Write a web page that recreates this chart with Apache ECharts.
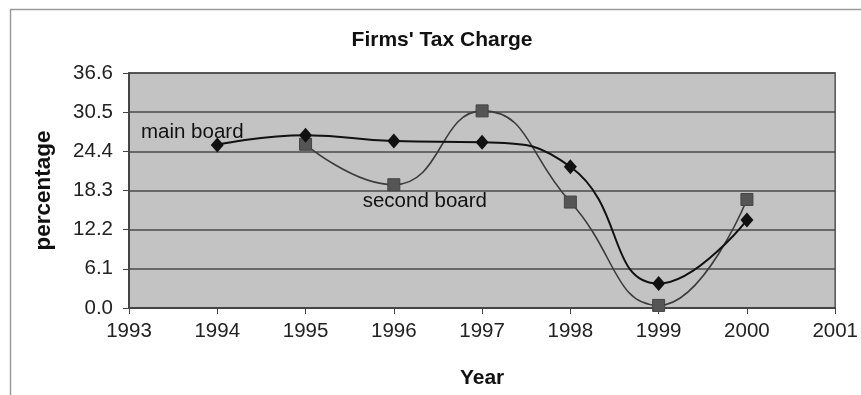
<!DOCTYPE html>
<html>
<head>
<meta charset="utf-8">
<script src="https://cdn.jsdelivr.net/npm/echarts@6/dist/echarts.min.js"></script>
<style>
  html, body { margin: 0; padding: 0; background: #ffffff; }
  #chart { width: 861px; height: 395px; }
</style>
</head>
<body>
<div id="chart"></div>
<script>
// Firms' tax charge (%) by year
const years = [1994, 1995, 1996, 1997, 1998, 1999, 2000];
const mainBoard = [25.4, 26.9, 26.0, 25.8, 22.0, 3.8, 13.7];
const secondBoard = [null, 25.5, 19.2, 30.7, 16.5, 0.4, 16.9];
const yTicks = [0.0, 6.1, 12.2, 18.3, 24.4, 30.5, 36.6];

const FONT = '"Liberation Sans", Arial, sans-serif';

function pairs(vals) {
  return years.map((y, i) => [y, vals[i]]).filter(p => p[1] !== null);
}

const mainData = pairs(mainBoard).map((p, i) => i === 0 ? {
  value: p,
  label: {
    show: true, formatter: 'main board', position: 'top',
    offset: [-25, 10], color: '#111', fontFamily: FONT, fontSize: 20.5
  }
} : p);

const secondData = pairs(secondBoard).map(p => p[0] === 1996 ? {
  value: p,
  label: {
    show: true, formatter: 'second board', position: 'bottom',
    offset: [31, -5], color: '#111', fontFamily: FONT, fontSize: 20.5
  }
} : p);

const chart = echarts.init(document.getElementById('chart'), null, { renderer: 'canvas' });
chart.setOption({
  animation: false,
  backgroundColor: '#ffffff',
  textStyle: { fontFamily: FONT },
  title: {
    text: "Firms' Tax Charge",
    left: 437, top: 25, textAlign: 'center',
    textStyle: { fontFamily: FONT, fontSize: 21, fontWeight: 'bold', color: '#111' }
  },
  graphic: [{
    type: 'rect',
    shape: { x: 10.5, y: 9.5, width: 900, height: 500 },
    style: { fill: null, stroke: '#9a9a9a', lineWidth: 1.5 },
    silent: true, z: -1
  }],
  grid: {
    left: 129, right: 24, top: 73, bottom: 87,
    show: true, backgroundColor: '#c3c3c3', borderColor: '#555', borderWidth: 1.5
  },
  xAxis: {
    type: 'value', min: 1993, max: 2001, interval: 1,
    name: 'Year', nameLocation: 'middle', nameGap: 60,
    nameTextStyle: { fontFamily: FONT, fontSize: 21, fontWeight: 'bold', color: '#111' },
    axisLine: { show: true, lineStyle: { color: '#444', width: 2 } },
    axisTick: { show: true, length: 6, lineStyle: { color: '#444' } },
    axisLabel: { margin: 13, fontFamily: FONT, fontSize: 20.5, color: '#222', formatter: v => String(v) },
    splitLine: { show: false }
  },
  yAxis: {
    type: 'value', min: 0, max: 36.6, interval: 6.1,
    name: 'percentage', nameLocation: 'middle', nameGap: 74, nameRotate: 90,
    nameTextStyle: { fontFamily: FONT, fontSize: 22.5, fontWeight: 'bold', color: '#111' },
    axisLine: { show: true, lineStyle: { color: '#444', width: 2 } },
    axisTick: { show: true, length: 6, lineStyle: { color: '#444' } },
    axisLabel: {
      margin: 16, fontFamily: FONT, fontSize: 20.5, color: '#222',
      formatter: v => {
        const t = yTicks.find(k => Math.abs(k - v) < 0.01);
        return (t !== undefined ? t : v).toFixed(1);
      }
    },
    splitLine: { show: true, lineStyle: { color: '#4a4a4a', width: 1.5 } }
  },
  series: [{
    name: 'second board',
    type: 'line',
    data: secondData,
    smooth: 0.5,
    symbol: 'rect', symbolSize: 12,
    lineStyle: { color: '#3c3c3c', width: 1.6 },
    itemStyle: { color: '#555555', borderColor: '#444', borderWidth: 1 },
    z: 2
  }, {
    name: 'main board',
    type: 'line',
    data: mainData,
    smooth: 0.5,
    symbol: 'diamond', symbolSize: [13, 15],
    lineStyle: { color: '#111', width: 2 },
    itemStyle: { color: '#111' },
    z: 3
  }]
});
</script>
</body>
</html>
